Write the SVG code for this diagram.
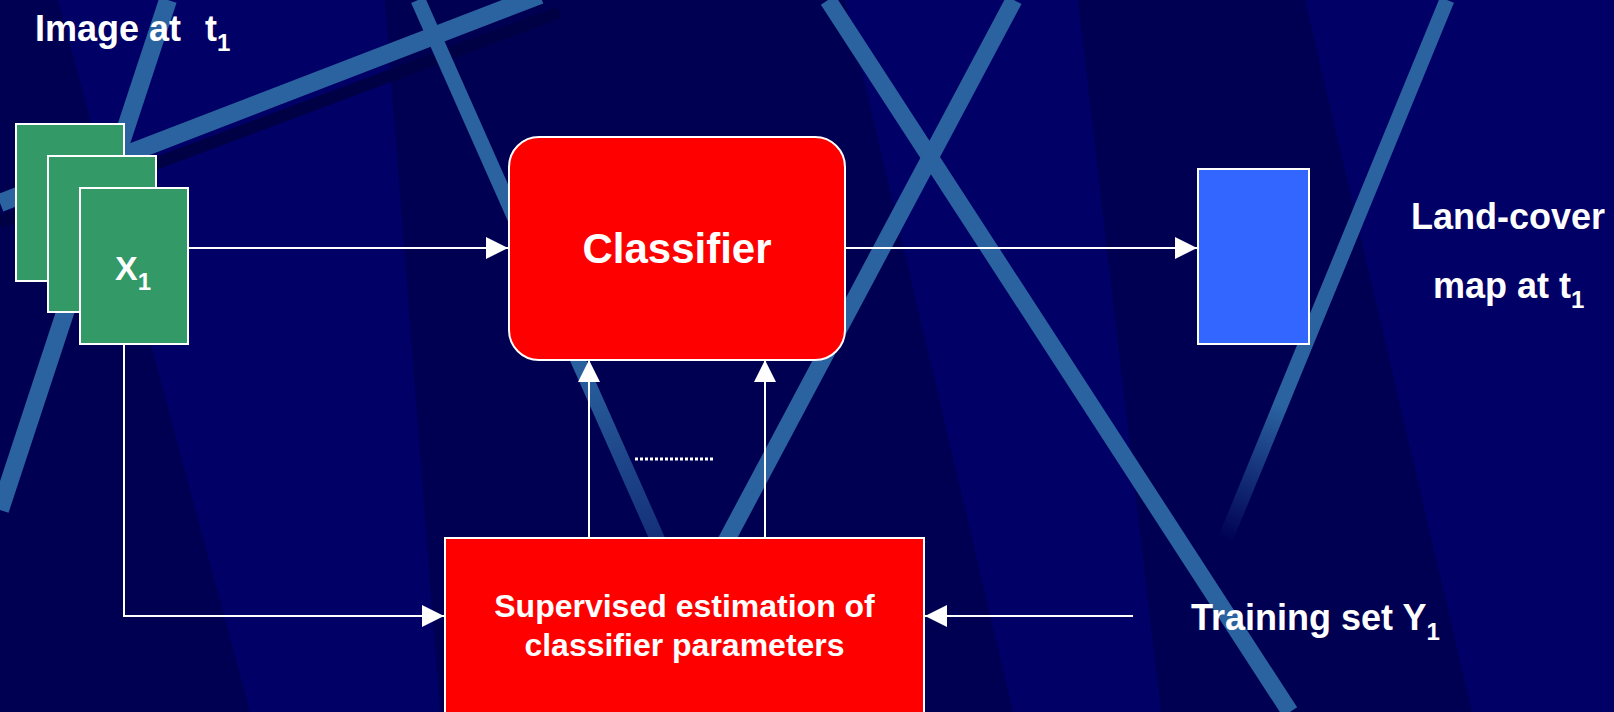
<svg xmlns="http://www.w3.org/2000/svg" width="1614" height="712" viewBox="0 0 1614 712">
<defs>
<marker id="ah" markerUnits="userSpaceOnUse" markerWidth="22" markerHeight="22" refX="22" refY="11" orient="auto">
<path d="M0,0 L22,11 L0,22 z" fill="#ffffff"/>
</marker>
<linearGradient id="fadeF" gradientUnits="userSpaceOnUse" x1="1447" y1="0" x2="1225" y2="540">
<stop offset="0" stop-color="#2a63a0"/>
<stop offset="0.75" stop-color="#2a63a0"/>
<stop offset="1" stop-color="#2a63a0" stop-opacity="0"/>
</linearGradient>
<linearGradient id="fadeC" gradientUnits="userSpaceOnUse" x1="418" y1="0" x2="680" y2="590">
<stop offset="0" stop-color="#2a63a0"/>
<stop offset="0.6" stop-color="#2a63a0"/>
<stop offset="1" stop-color="#2a63a0" stop-opacity="0.35"/>
</linearGradient>
<style>
.stripe{stroke:#2a63a0;fill:none;stroke-linecap:butt}
.dark{fill:#000052}
.node{stroke:#ffffff;stroke-width:2}
.green{fill:#339966}
.red{fill:#ff0000}
.blue{fill:#3366ff}
.lbl{font-family:"Liberation Sans",Arial,sans-serif;font-weight:bold;fill:#ffffff}
.conn{stroke:#ffffff;stroke-width:2;fill:none}
</style>
</defs>
<g id="background">
<rect x="0" y="0" width="1614" height="712" fill="#000066"/>
<polygon class="dark" points="0,0 58,0 250,712 0,712"/>
<polygon class="dark" points="385,0 845,0 1013,712 440,712"/>
<polygon class="dark" points="1078,0 1305,0 1472,712 1161,712"/>
<line x1="0" y1="222" x2="560" y2="12" stroke="#000044" stroke-width="12"/>
<line class="stripe" x1="0" y1="203" x2="540" y2="-5" stroke-width="18"/>
<line class="stripe" x1="168" y1="0" x2="0" y2="510" stroke-width="18"/>
<line x1="418" y1="0" x2="680" y2="590" stroke="url(#fadeC)" stroke-width="15"/>
<line class="stripe" x1="828" y1="0" x2="1290" y2="712" stroke-width="17"/>
<line class="stripe" x1="1014" y1="0" x2="700" y2="590" stroke-width="17"/>
<line x1="1447" y1="0" x2="1225" y2="540" stroke="url(#fadeF)" stroke-width="15"/>
</g>
<g id="connectors">
<line class="conn" x1="189" y1="248" x2="508" y2="248" marker-end="url(#ah)"/>
<line class="conn" x1="846" y1="248" x2="1197" y2="248" marker-end="url(#ah)"/>
<path class="conn" d="M124,345 V616 H444" marker-end="url(#ah)"/>
<line class="conn" x1="1133" y1="616" x2="925" y2="616" marker-end="url(#ah)"/>
<line class="conn" x1="589" y1="537" x2="589" y2="360" marker-end="url(#ah)"/>
<line class="conn" x1="765" y1="537" x2="765" y2="360" marker-end="url(#ah)"/>
<line x1="635" y1="459" x2="715" y2="459" stroke="#ffffff" stroke-width="3" stroke-dasharray="3 2"/>
</g>
<g id="image-t1">
<rect class="node green" x="16" y="124" width="108" height="157"/>
<rect class="node green" x="48" y="156" width="108" height="156"/>
<rect class="node green" x="80" y="188" width="108" height="156"/>
<text class="lbl" x="115" y="280" font-size="34">X<tspan dy="10" font-size="24">1</tspan></text>
</g>
<g id="image-label">
<text class="lbl" x="35" y="41" font-size="36">Image at<tspan x="205">t</tspan><tspan dy="10" font-size="24">1</tspan></text>
</g>
<g id="classifier">
<rect class="node red" x="509" y="137" width="336" height="223" rx="30" ry="30"/>
<text class="lbl" x="677" y="263" font-size="42" text-anchor="middle">Classifier</text>
</g>
<g id="landcover-map">
<rect class="node blue" x="1198" y="169" width="111" height="175"/>
</g>
<g id="landcover-label">
<text class="lbl" x="1411" y="229" font-size="36">Land-cover</text>
<text class="lbl" x="1433" y="298" font-size="36">map at t<tspan dy="10" font-size="24">1</tspan></text>
</g>
<g id="supervised">
<rect class="node red" x="445" y="538" width="479" height="200"/>
<text class="lbl" x="684.5" y="617" font-size="32" text-anchor="middle">Supervised estimation of</text>
<text class="lbl" x="684.5" y="656" font-size="32" text-anchor="middle">classifier parameters</text>
</g>
<g id="training-set">
<text class="lbl" x="1191" y="630" font-size="36">Training set Y<tspan dy="10" font-size="24">1</tspan></text>
</g>
</svg>
